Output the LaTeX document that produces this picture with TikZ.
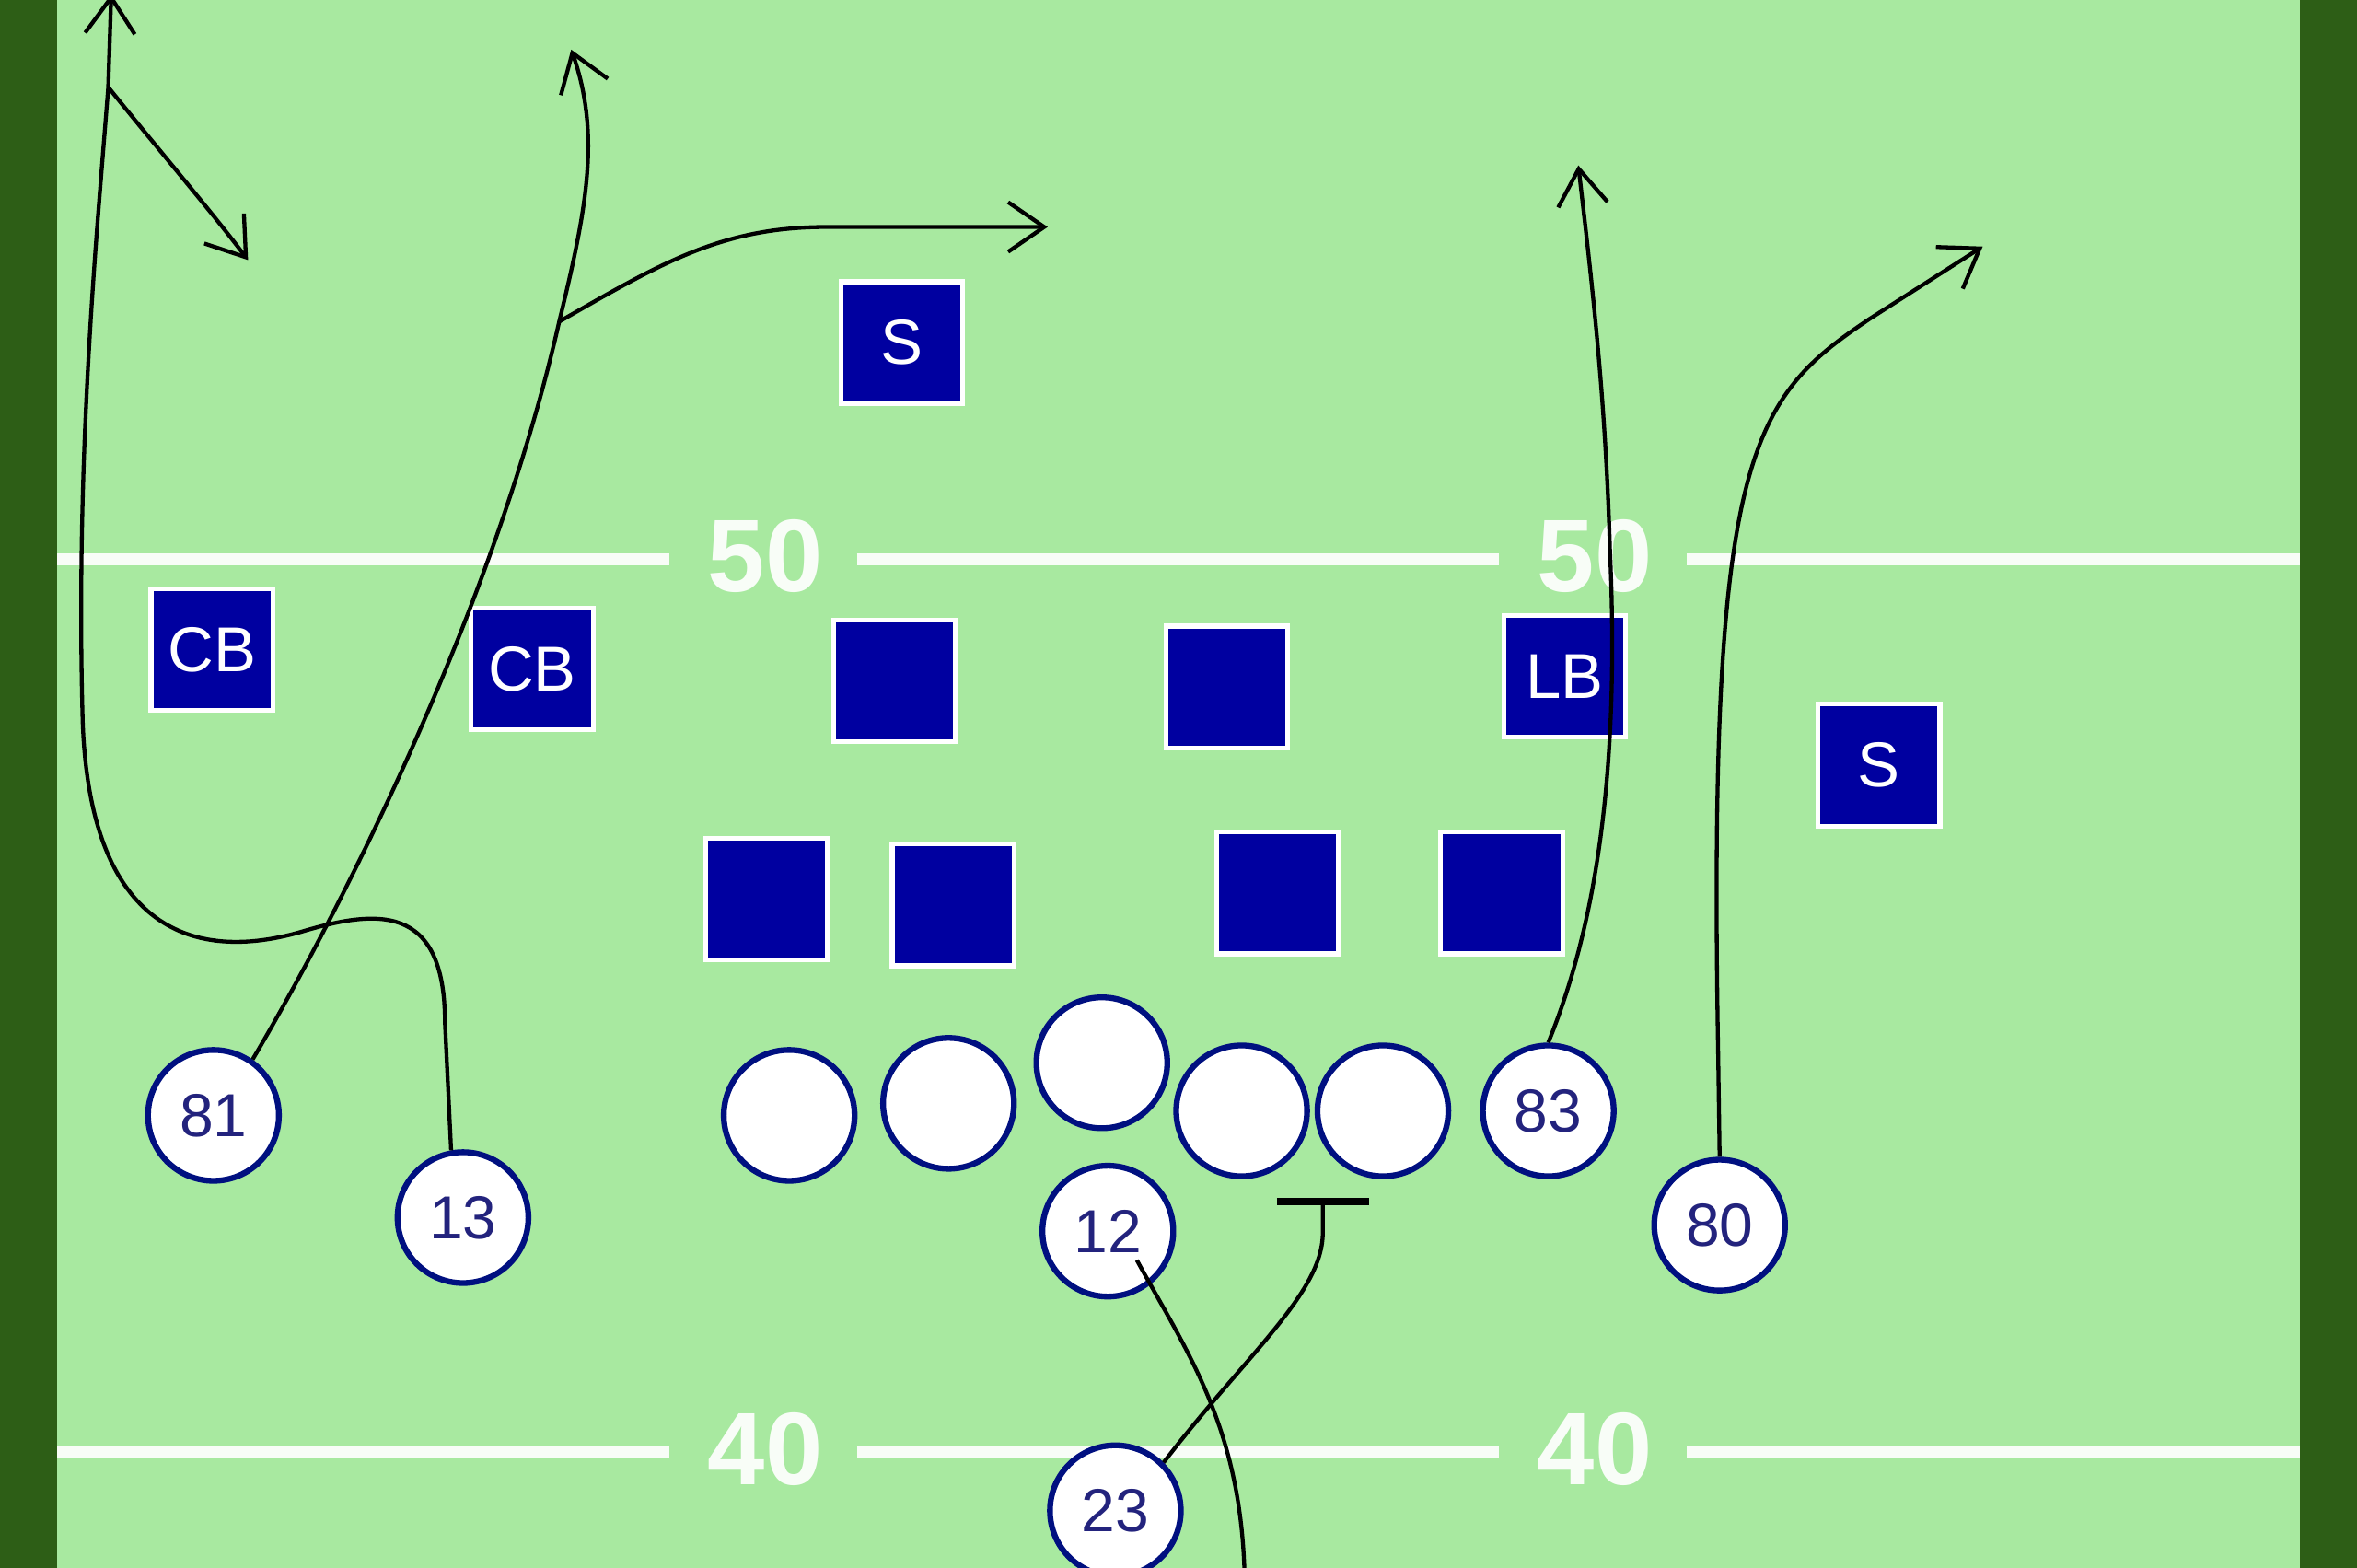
\documentclass[tikz,border=0pt]{standalone}
\usepackage{fontspec}
\setmainfont{Liberation Sans}
\usetikzlibrary{arrows.meta,calc}
\definecolor{turf}{RGB}{168,233,160}
\definecolor{sideline}{RGB}{45,94,22}
\definecolor{defblue}{RGB}{0,0,160}
\definecolor{offblue}{RGB}{0,16,128}
\definecolor{numblue}{RGB}{35,35,125}
\tikzset{
  defense/.style={rectangle,fill=defblue,draw=white,line width=0.9pt,minimum size=0.81cm,inner sep=0pt,text=white,font=\fontsize{12}{12}\selectfont},
  offense/.style={circle,fill=white,draw=offblue,line width=1.1pt,minimum size=0.87cm,inner sep=0pt,text=numblue,font=\fontsize{11.5}{12}\selectfont},
  yard/.style={draw=white!92!turf,line width=2.3pt},
  yardnum/.style={text=white!92!turf,font=\bfseries\fontsize{19.5}{20}\selectfont},
  route/.style={black,line width=0.75pt,-{Straight Barb[length=2.4mm,width=3.3mm]}},
  block/.style={black,line width=0.75pt,-{Bar[width=6.1mm,line width=1.3pt]}}
}
\begin{document}
\begin{tikzpicture}[x=0.01cm,y=-0.01cm]
  \useasboundingbox (0,0) rectangle (1568,1043);
  \fill[sideline] (0,0) rectangle (1568,1043);
  \fill[turf] (38,0) rectangle (1530,1043);
  \draw[yard] (38,372) -- (445,372) (570,372) -- (997,372) (1122,372) -- (1530,372);
  \draw[yard] (38,966) -- (445,966) (570,966) -- (997,966) (1122,966) -- (1530,966);
  \node[yardnum] (fifty1) at (509,370) {50};
  \node[yardnum] (fifty2) at (1061,370) {50};
  \node[yardnum] (forty1) at (509,964) {40};
  \node[yardnum] (forty2) at (1061,964) {40};

  \node[defense] (s1) at (600,228) {S};
  \node[defense] (cb1) at (141,432) {CB};
  \node[defense] (cb2) at (354,445) {CB};
  \node[defense] (lb1) at (595,453) {};
  \node[defense] (lb2) at (816,457) {};
  \node[defense] (lb3) at (1041,450) {LB};
  \node[defense] (s2) at (1250,509) {S};
  \node[defense] (dl1) at (510,598) {};
  \node[defense] (dl2) at (634,602) {};
  \node[defense] (dl3) at (850,594) {};
  \node[defense] (dl4) at (999,594) {};

  \node[offense] (p81) at (142,742) {81};
  \node[offense] (p13) at (308,810) {13};
  \node[offense] (ol1) at (525,742) {};
  \node[offense] (ol2) at (631,734) {};
  \node[offense] (ol3) at (733,707) {};
  \node[offense] (ol4) at (826,739) {};
  \node[offense] (ol5) at (920,739) {};
  \node[offense] (p83) at (1030,739) {83};
  \node[offense] (p80) at (1144,815) {80};
  \node[offense] (p12) at (737,819) {12};
  \node[offense] (p23) at (742,1005) {23};

  \coordinate (cut) at (372,214);
  \coordinate (deep) at (74,-4);
  \coordinate (turn) at (72,58);
  \coordinate (hole) at (880,797);
  \coordinate (run) at (828,1050);

  \begin{scope}
    \draw[route] (p81.55) .. controls (230,600) and (330,400) .. (cut)
      .. controls (390,140) and (400,90) .. (380,33);
    \draw[route] (cut) .. controls (440,175) and (480,151) .. (550,151) -- (697,151);
    \draw[line width=0.75pt] (p13.100) -- (296,680) .. controls (296,600) and (250,605) .. (200,620)
      .. controls (130,640) and (60,620) .. (55,480) .. controls (50,300) and (65,150) .. (turn);
    \draw[route] (turn) -- (deep);
    \draw[route] (turn) .. controls (110,105) and (140,140) .. (165,173);
    \draw[route] (p83.north) .. controls (1060,620) and (1078,520) .. (1071,365)
      .. controls (1068,260) and (1058,180) .. (1050,110);
    \draw[route] (p80.north) -- (1143,700) .. controls (1136,300) and (1165,265) .. (1244,212) -- (1319,164);
    \draw[block] (p23.45) .. controls (830,900) and (880,860) .. (880,820) -- (hole);
    \draw[line width=0.75pt] ($(p12.center)!0.6!(p12.-45)$) .. controls (790,900) and (826,950) .. (run);
  \end{scope}
\end{tikzpicture}
\end{document}
